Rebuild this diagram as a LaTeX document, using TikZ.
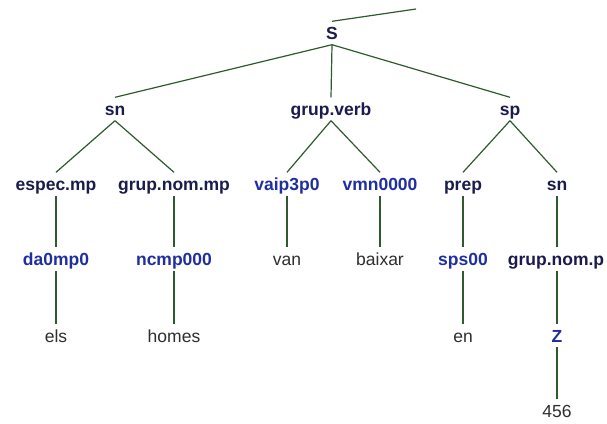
\documentclass[tikz,border=0pt]{standalone}
\usepackage{fontspec}
\setmainfont{Liberation Sans}
\definecolor{ntcol}{HTML}{1B1B4D}
\definecolor{tagcol}{HTML}{1F2FA0}
\definecolor{wordcol}{HTML}{2E2E2E}
\definecolor{linecol}{HTML}{2E5A2E}
\begin{document}
\begin{tikzpicture}[x=1pt,y=-1pt,
  lab/.style={anchor=base,inner xsep=0pt,inner ysep=0pt,text height=18pt,text depth=5pt},
  nt/.style={lab,text=ntcol,font=\fontsize{17.5}{20}\selectfont\bfseries},
  tag/.style={lab,text=tagcol,font=\fontsize{17.5}{20}\selectfont\bfseries},
  word/.style={lab,text=wordcol,font=\fontsize{17.5}{20}\selectfont},
  edge/.style={draw=linecol,line width=1.2pt}]
\fill[white] (0,0) rectangle (607,423);
\useasboundingbox (0,0) rectangle (607,423);
% level 0
\node[nt] (S) at (332,39.5) {S};
\coordinate (top) at (416,9);
% level 1
\node[nt] (sn1) at (115,115.5) {sn};
\node[nt] (gv) at (331,115.5) {grup.verb};
\node[nt] (sp) at (510,115.5) {sp};
% level 2
\node[nt] (esp) at (56,190.5) {espec.mp};
\node[nt] (gnm) at (174,190.5) {grup.nom.mp};
\node[tag] (vaip) at (287,190.5) {vaip3p0};
\node[tag] (vmn) at (380,190.5) {vmn0000};
\node[nt] (prep) at (463,190.5) {prep};
\node[nt] (sn2) at (557,190.5) {sn};
% level 3
\node[tag] (da) at (56,265.5) {da0mp0};
\node[tag] (nc) at (174,265.5) {ncmp000};
\node[word] (van) at (287,265.5) {van};
\node[word] (baixar) at (380,265.5) {baixar};
\node[tag] (sps) at (463,265.5) {sps00};
\node[nt] (gnp) at (556,265.5) {grup.nom.p};
% level 4
\node[word] (els) at (56,342) {els};
\node[word] (homes) at (174,342) {homes};
\node[word] (en) at (463,342) {en};
\node[tag] (Z) at (557,342) {Z};
% level 5
\node[word] (n456) at (557,417.5) {456};
% edges
\draw[edge] (S.north) -- (top);
\draw[edge] (S.south) -- (sn1.north);
\draw[edge] (S.south) -- (gv.north);
\draw[edge] (S.south) -- (sp.north);
\draw[edge] (sn1.south) -- (esp.north);
\draw[edge] (sn1.south) -- (gnm.north);
\draw[edge] (gv.south) -- (vaip.north);
\draw[edge] (gv.south) -- (vmn.north);
\draw[edge] (sp.south) -- (prep.north);
\draw[edge] (sp.south) -- (sn2.north);
\draw[edge] (esp.south) -- (da.north);
\draw[edge] (gnm.south) -- (nc.north);
\draw[edge] (vaip.south) -- (van.north);
\draw[edge] (vmn.south) -- (baixar.north);
\draw[edge] (prep.south) -- (sps.north);
\draw[edge] (sn2.south) -- (gnp.north -| sn2.south);
\draw[edge] (da.south) -- (els.north);
\draw[edge] (nc.south) -- (homes.north);
\draw[edge] (sps.south) -- (en.north);
\draw[edge] (gnp.south -| Z.north) -- (Z.north);
\draw[edge] (Z.south) -- (n456.north);
\end{tikzpicture}
\end{document}
